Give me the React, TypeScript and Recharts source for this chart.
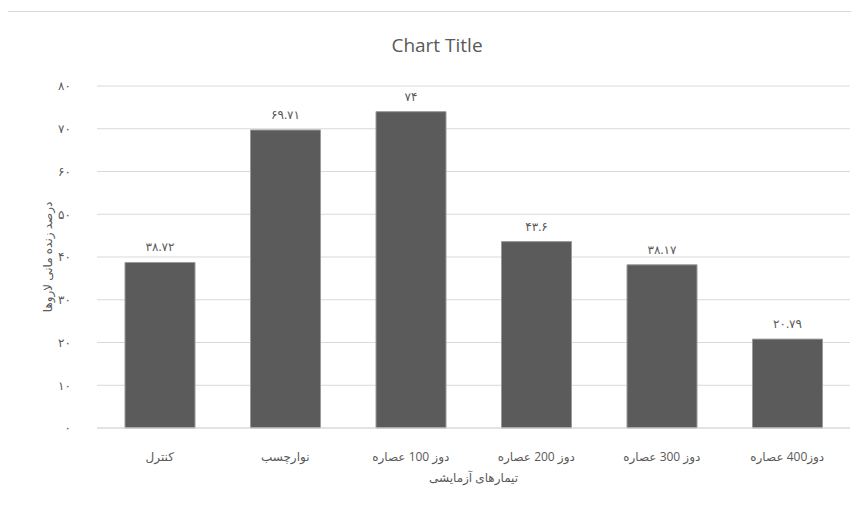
import { Bar, BarChart, CartesianGrid, LabelList, XAxis, YAxis } from "recharts";

const categories = ["کنترل", "نوارچسب", "دوز 100 عصاره", "دوز 200 عصاره", "دوز 300 عصاره", "دوز400 عصاره"];
const values = [38.72, 69.71, 74, 43.6, 38.17, 20.79];
const yTicks = [0, 10, 20, 30, 40, 50, 60, 70, 80];

const TEXT = "#595959";
const GRID = "#d9d9d9";
const BAR = "#5b5b5b";
const FONT = "'Open Sans', 'DejaVu Sans', sans-serif";

const data = categories.map((name, i) => ({ name, value: values[i] }));

function toPersian(n: number | string) {
  return String(n).replace(/[0-9]/g, (d) => "۰۱۲۳۴۵۶۷۸۹"[Number(d)]);
}

export default function App() {
  return (
    <div
      style={{
        position: "relative",
        width: 870,
        height: 510,
        marginLeft: -1,
        marginTop: 3,
        border: `1px solid ${GRID}`,
        fontFamily: FONT,
        background: "#fff",
      }}
    >
      <div
        style={{
          position: "absolute",
          left: 0,
          width: 860,
          top: 20,
          textAlign: "center",
          fontSize: 19,
          color: TEXT,
          paddingLeft: 0,
        }}
      >
        <span style={{ position: "relative", left: -1 }}>Chart Title</span>
      </div>
      <BarChart
        width={860}
        height={500}
        data={data}
        margin={{ top: 74, right: 18, bottom: 24, left: 40 }}
        style={{ fontFamily: FONT }}
      >
        <CartesianGrid vertical={false} stroke={GRID} strokeWidth={1} />
        <XAxis
          dataKey="name"
          axisLine={{ stroke: GRID }}
          tickLine={false}
          tick={{ fill: TEXT, fontSize: 12 }}
          tickMargin={18}
          height={60}
          label={{ value: "تیمارهای آزمایشی", position: "insideBottom", offset: 6, fill: TEXT, fontSize: 12 }}
        />
        <YAxis
          width={49}
          domain={[0, 80]}
          ticks={yTicks}
          axisLine={false}
          tickLine={false}
          tick={{ fill: TEXT, fontSize: 12 }}
          tickMargin={20}
          tickFormatter={(v) => toPersian(v)}
          label={{
            value: "درصد زنده مانی لاروها",
            angle: -90,
            position: "insideLeft",
            offset: 0,
            fill: TEXT,
            fontSize: 12,
            style: { textAnchor: "middle" },
          }}
        />
        <Bar dataKey="value" fill={BAR} stroke="#9a9a9a" strokeWidth={1} barSize={70} isAnimationActive={false}>
          <LabelList
            dataKey="value"
            position="top"
            offset={11}
            fill={TEXT}
            fontSize={12}
            formatter={(v: number) => toPersian(v)}
          />
        </Bar>
      </BarChart>
    </div>
  );
}
